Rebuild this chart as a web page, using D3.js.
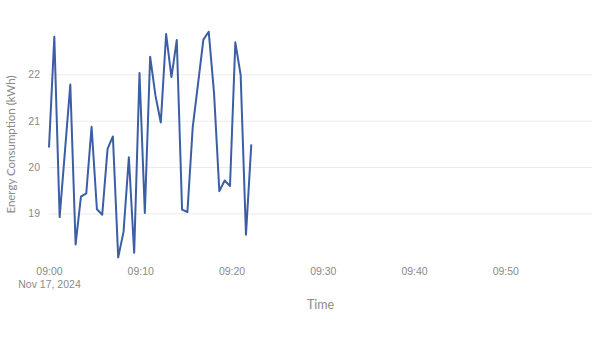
<!DOCTYPE html>
<html>
<head>
<meta charset="utf-8">
<script src="https://cdn.jsdelivr.net/npm/d3@7"></script>
<style>
  body { margin: 0; background: #fff; }
  svg { display: block; font-family: Lato, sans-serif; }
  .grid line { stroke: #ebebeb; stroke-width: 1; }
  .tick text { fill: #8a8a8a; font-size: 10.5px; }
</style>
</head>
<body>
<div id="chart"></div>
<script>
// dados
var times = ["09:00:00","09:00:35","09:01:10","09:01:45","09:02:20","09:02:55","09:03:30","09:04:05",
  "09:04:40","09:05:15","09:05:50","09:06:25","09:07:00","09:07:35","09:08:10","09:08:45","09:09:20",
  "09:09:55","09:10:30","09:11:05","09:11:40","09:12:15","09:12:50","09:13:25","09:14:00","09:14:35",
  "09:15:10","09:15:45","09:16:20","09:16:55","09:17:30","09:18:05","09:18:40","09:19:15","09:19:50",
  "09:20:25","09:21:00","09:21:35","09:22:10"];
var energy = [20.42,22.81,18.92,20.35,21.78,18.33,19.36,19.43,20.87,19.09,18.97,20.39,20.66,18.05,
  18.6,20.21,18.15,22.03,19.01,22.38,21.54,20.96,22.87,21.94,22.74,19.08,19.03,20.86,21.8,22.75,
  22.92,21.6,19.48,19.71,19.59,22.69,21.99,18.54,20.49];
var xTicks = ["09:00","09:10","09:20","09:30","09:40","09:50"];
var yTicks = [19, 20, 21, 22];
var day = "2024-11-17";
var xEnd = "09:59:30";

var width = 600, height = 338;
var margin = {top: 31.7, right: 8, bottom: 80.6, left: 49};

var parse = d3.timeParse("%Y-%m-%d %H:%M:%S");
var data = times.map(function(t, i) { return {t: parse(day + " " + t), v: energy[i]}; });

var svg = d3.select("#chart").append("svg")
  .attr("width", width).attr("height", height);

var x = d3.scaleTime()
  .domain([parse(day + " " + times[0]), parse(day + " " + xEnd)])
  .range([margin.left, width - margin.right]);
var y = d3.scaleLinear()
  .domain([d3.min(energy), d3.max(energy)])
  .range([height - margin.bottom, margin.top]);

// linhas de grade + rótulos do eixo Y
var yAxis = svg.append("g").attr("class", "grid")
  .attr("transform", "translate(" + margin.left + ",0)")
  .call(d3.axisLeft(y).tickValues(yTicks).tickFormat(d3.format("d"))
    .tickSize(-(width - margin.left - margin.right)).tickPadding(9));
yAxis.select(".domain").remove();

// eixo X
var xAxis = svg.append("g")
  .attr("transform", "translate(0," + (height - margin.bottom) + ")")
  .call(d3.axisBottom(x)
    .tickValues(xTicks.map(function(s) { return parse(day + " " + s + ":00"); }))
    .tickFormat(d3.timeFormat("%H:%M")).tickSize(0).tickPadding(10));
xAxis.select(".domain").remove();
xAxis.select(".tick text").append("tspan")
  .attr("x", 0).attr("dy", "1.3em").text("Nov 17, 2024");

// linha
var line = d3.line().x(function(d) { return x(d.t); }).y(function(d) { return y(d.v); });
svg.append("path").datum(data)
  .attr("d", line)
  .attr("fill", "none")
  .attr("stroke", "#3c5ea5")
  .attr("stroke-width", 2)
  .attr("stroke-linejoin", "round");

// títulos dos eixos
svg.append("text")
  .attr("x", (margin.left + width - margin.right) / 2).attr("y", 309)
  .attr("text-anchor", "middle").attr("fill", "#8a8a8a").attr("font-size", 12.5)
  .text("Time");
svg.append("text")
  .attr("transform", "translate(15," + ((margin.top + height - margin.bottom) / 2) + ") rotate(-90)")
  .attr("text-anchor", "middle").attr("fill", "#8a8a8a").attr("font-size", 11.5)
  .text("Energy Consumption (kWh)");
</script>
</body>
</html>
